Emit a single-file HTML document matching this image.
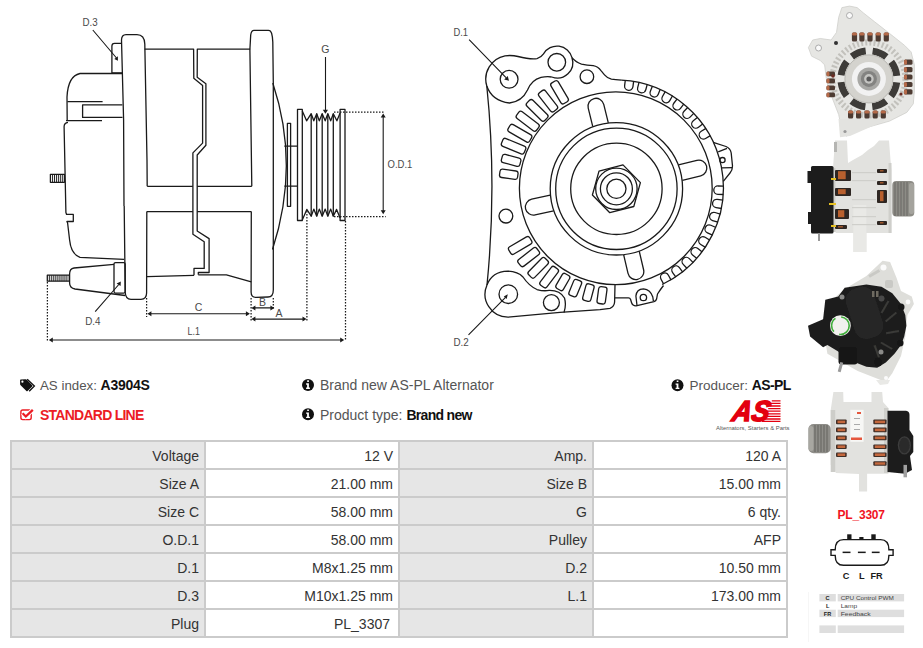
<!DOCTYPE html>
<html><head><meta charset="utf-8">
<style>
*{box-sizing:border-box;margin:0;padding:0}
html,body{width:923px;height:648px;overflow:hidden;background:#fff}
body{position:relative;font-family:"Liberation Sans",sans-serif;color:#333}
.abs{position:absolute}
.grid{position:absolute;left:10px;top:440px;width:778px;height:198px;background:#cbcbcb;padding:2px;display:grid;grid-template-columns:192px 192px 192px 192px;grid-auto-rows:26px;gap:2px}
.grid div{background:#fff;text-align:right;font-size:14px;line-height:28px;padding-right:5px;white-space:nowrap;color:#333}
.grid div.l{background:#e6e6e6}
.t{position:absolute;white-space:nowrap;font-size:14px;line-height:16px;color:#555}
.t b{color:#111}
</style></head><body>

<svg class="abs" style="left:0;top:0" width="923" height="648" viewBox="0 0 923 648">
<g fill="none" stroke="#1a1a1a" stroke-width="1.3" stroke-linejoin="round">
<!-- rear flange -->
<path d="M124.2,206 L125.2,292 Q125.4,299.3 131,299.3 L141,299.3 Q146.5,299.3 146.6,293 L146.8,211.6"/>
<path d="M147.2,186.3 L147,160 L144.8,44 Q144.5,34.6 137,34.6 L126,34.6 Q121.6,34.6 121.5,40 L123.6,120 L124,206"/>
<!-- D.3 tab -->
<path d="M122.3,73 L111.9,73 L111.9,46 Q111.9,43.3 114.5,43.3 L122,43.3"/>
<!-- rear cover upper -->
<path d="M122.3,73.5 L80,73.5 Q68,76 67,97 L67.2,120.6"/>
<path d="M67.4,101.7 L102.6,101.7 M122.4,104.8 L82.6,104.8 L82.6,117.4 L122.5,117.4 M66,120.6 L102,120.6"/>
<!-- rear cover lower -->
<path d="M124,259.3 L80,257.4 Q71,254 69.6,240 L67.6,223 L66.9,221.5 L73.3,221.5 L73.3,214.4 L66.6,214.4 L65.9,212.6 L64.1,127 Q64,123 68,122.4"/>
<!-- stud -->
<rect x="50.4" y="174.3" width="14" height="8"/>
<!-- stator upper -->
<path d="M144.6,49.1 L193.6,49.1 L193.8,78.3 L202.6,85.5 L202.6,143.1 L192.9,152.9 L192.9,234.3 L204.2,241.8 L204.2,268.4 L194,268.4 L194,275.3"/>
<path d="M250.2,49.1 L197.3,49.1 L197.2,77.2 L205.9,83.7 L205.9,145.3 L197.2,155 L197.2,231 L209.1,238.6 L209.1,272.5 L198.3,272.5 L198.3,274.8"/>
<path d="M147.2,186.3 L192.9,186.3 M197.2,186.3 L251.8,186.3 M146.8,211.6 L192.9,211.6 M197.2,211.6 L251.3,211.6"/>
<path d="M147,276.6 L194,275.3 M198.3,274.8 L226.4,274.9 L251.3,281.8"/>
<!-- front flange -->
<path d="M251.8,186.3 L249.9,49.5 L250.7,35 Q251.3,30.3 254,30.3 L268.5,30.3 Q270.6,30.3 271.6,33.2 Q272.6,36.5 272.8,42 L273.3,84 L273.3,290 Q273.3,297 268,297 L256,297.3 Q251.1,297.5 251.1,292 L251.3,211.6"/>
<!-- dome -->
<path d="M272.8,83 Q300,165 272.5,249.5"/>
<!-- washer + shaft -->
<rect x="287.4" y="123.3" width="3.2" height="83"/>
<path d="M284.3,146.1 L297.5,146.1 M284.3,186.1 L297.5,186.1"/>
<!-- pulley -->
<rect x="297.5" y="109.4" width="4.8" height="111.1"/>
<rect x="340.1" y="109.4" width="4.9" height="111.1"/>
<path d="M302.3,111.1 L306.6,120.8 L311.2,113.7 L313.8,120.8 L316.7,113.7 L319.3,120.8 L322.2,113.7 L325.2,120.8 L327.8,113.7 L330.7,120.8 L333.3,113.7 L336.9,120.8 L340.1,113"/>
<path d="M302.3,220 L306.8,209.4 L311.2,216.2 L313.8,209.1 L316.7,216.2 L319.3,209.1 L322.2,216.2 L325.2,209.1 L327.8,216.2 L330.7,209.1 L333.3,216.2 L336.6,209.4 L340.1,218"/>
<path d="M311.2,113.7 V216.2 M316.7,113.7 V216.2 M322.2,113.7 V216.2 M327.8,113.7 V216.2 M333.3,113.7 V216.2"/>
<!-- D.4 terminal -->
<path d="M114,264.4 L74,268 Q69.6,268.5 69.6,274 L69.6,283 Q69.6,288 75,289 L125,295.5"/>
<rect x="114" y="262.6" width="11.2" height="30.5" rx="1.5"/>
<rect x="47.3" y="275.2" width="22" height="6"/>
</g>
<!-- hatching -->
<g stroke="#1a1a1a" stroke-width="0.95">
<path d="M52.55,174.3V182.3M54.50,174.3V182.3M56.45,174.3V182.3M58.40,174.3V182.3M60.35,174.3V182.3M62.30,174.3V182.3"/>
<path d="M49.35,275.2V281.2M51.30,275.2V281.2M53.25,275.2V281.2M55.20,275.2V281.2M57.15,275.2V281.2M59.10,275.2V281.2M61.05,275.2V281.2M63.00,275.2V281.2M64.95,275.2V281.2M66.90,275.2V281.2"/>
</g>
<!-- dotted dimension lines -->
<g stroke="#1a1a1a" stroke-width="1.25" stroke-dasharray="1.5,1.5" fill="none">
<path d="M47.4,282 V341 M146.6,298 V317 M251.1,298 V321 M273.3,298 V310 M306.9,211 V321 M345.5,221 V341 M334,112.2 H384 M334,216.6 H385.7"/>
</g>
<!-- arrows -->
<g stroke="#1a1a1a" stroke-width="1.1" fill="none">
<path d="M150,313.8 H247 M254,307.9 H271.5 M254,319.1 H304 M51,340 H342 M383.2,117 V211 M325.5,57 V110 M92.8,30 L116.5,58 M95.2,311.7 L118.8,284.5 M469.1,39.7 L506,77.6 M468.5,334.8 L505.5,297.3"/>
</g>
<g fill="#1a1a1a">
<path d="M147.4,313.8 l4,-2.5 v5z M249.9,313.8 l-4,-2.5 v5z"/>
<path d="M251.4,307.9 l4,-2.5 v5z M274.4,307.9 l-4,-2.5 v5z"/>
<path d="M251.4,319.1 l4,-2.5 v5z M306.5,319.1 l-4,-2.5 v5z"/>
<path d="M48.8,340 l4,-2.5 v5z M344.2,340 l-4,-2.5 v5z"/>
<path d="M383.2,113.6 l-2.5,4 h5z M383.2,214.2 l-2.5,-4 h5z"/>
<path d="M325.4,113.7 l-2.6,-4 h5.2z"/>
<path d="M114.3,58.9 L117.9,56.3 L117.9,60.8z"/>
<path d="M116.6,283.5 L120.8,281.5 L120.6,286z"/>
<path d="M509,80.8 L504.2,79.4 L507.7,75.9z"/>
<path d="M507.8,294.3 L503.8,296.5 L506.6,298.9z"/>
</g>
<!-- labels -->
<g font-family="Liberation Sans, sans-serif" font-size="10.5" fill="#4a4a4a">
<text x="82.4" y="25.6" textLength="15.2" lengthAdjust="spacingAndGlyphs">D.3</text>
<text x="85.2" y="324.6" textLength="15.3" lengthAdjust="spacingAndGlyphs">D.4</text>
<text x="321.3" y="53.3">G</text>
<text x="387.6" y="167.9" textLength="24.8" lengthAdjust="spacingAndGlyphs">O.D.1</text>
<text x="194.8" y="311">C</text>
<text x="259" y="306">B</text>
<text x="275.6" y="317.3">A</text>
<text x="187.5" y="335.3" textLength="12.4" lengthAdjust="spacingAndGlyphs">L.1</text>
<text x="453.4" y="36" textLength="14.6" lengthAdjust="spacingAndGlyphs">D.1</text>
<text x="453.4" y="346.1" textLength="15.3" lengthAdjust="spacingAndGlyphs">D.2</text>
</g>

<g fill="none" stroke="#1a1a1a" stroke-width="1.3" stroke-linejoin="round">
<circle cx="616.4" cy="188.8" r="9.6"/>
<circle cx="616.4" cy="188.8" r="16.0"/>
<circle cx="616.4" cy="188.8" r="20.7"/>
<circle cx="616.4" cy="188.8" r="45.7"/>
<circle cx="616.4" cy="188.8" r="60.7"/>
<circle cx="616.4" cy="188.8" r="66.2"/>
<circle cx="615.8" cy="188.3" r="96.4"/>
<polygon points="640.4,182.6 633.8,206.5 609.8,212.7 592.4,195.0 599.0,171.1 623.0,164.9"/>
<path transform="rotate(-14.1 616.4 188.8)" d="M682.4,180.8 L701.4,180.8 A8,8 0 0 1 701.4,196.8 L682.4,196.8"/>
<path transform="rotate(76.8 616.4 188.8)" d="M682.4,180.8 L701.4,180.8 A8,8 0 0 1 701.4,196.8 L682.4,196.8"/>
<path transform="rotate(167.6 616.4 188.8)" d="M682.4,180.8 L701.4,180.8 A8,8 0 0 1 701.4,196.8 L682.4,196.8"/>
<path transform="rotate(-103.9 616.4 188.8)" d="M682.4,180.8 L701.4,180.8 A8,8 0 0 1 701.4,196.8 L682.4,196.8"/>
<rect transform="rotate(-172.3 616.4 188.8)" x="715.9" y="184.6" width="18.2" height="8.4" rx="2.4"/>
<rect transform="rotate(-164.9 616.4 188.8)" x="715.9" y="184.6" width="19.1" height="8.4" rx="2.4"/>
<rect transform="rotate(-157.5 616.4 188.8)" x="715.4" y="184.6" width="24.6" height="8.4" rx="2.4"/>
<rect transform="rotate(-150.1 616.4 188.8)" x="715.4" y="184.6" width="24.8" height="8.4" rx="2.4"/>
<rect transform="rotate(-142.7 616.4 188.8)" x="715.4" y="184.6" width="25.0" height="8.4" rx="2.4"/>
<rect transform="rotate(-135.3 616.4 188.8)" x="715.4" y="184.6" width="25.0" height="8.4" rx="2.4"/>
<rect transform="rotate(-127.9 616.4 188.8)" x="715.9" y="184.6" width="23.5" height="8.4" rx="2.4"/>
<rect transform="rotate(-120.5 616.4 188.8)" x="716.4" y="184.6" width="24.0" height="8.4" rx="2.4"/>
<rect transform="rotate(149.5 616.4 188.8)" x="715.9" y="184.6" width="24.3" height="8.4" rx="2.4"/>
<rect transform="rotate(142.1 616.4 188.8)" x="715.9" y="184.6" width="23.4" height="8.4" rx="2.4"/>
<rect transform="rotate(134.7 616.4 188.8)" x="715.9" y="184.6" width="23.3" height="8.4" rx="2.4"/>
<rect transform="rotate(127.3 616.4 188.8)" x="715.9" y="184.6" width="23.0" height="8.4" rx="2.4"/>
<rect transform="rotate(119.9 616.4 188.8)" x="715.4" y="184.6" width="17.0" height="8.4" rx="2.4"/>
<rect transform="rotate(112.5 616.4 188.8)" x="715.4" y="184.6" width="17.0" height="8.4" rx="2.4"/>
<rect transform="rotate(105.1 616.4 188.8)" x="715.4" y="184.6" width="17.0" height="8.4" rx="2.4"/>
<rect transform="rotate(97.7 616.4 188.8)" x="715.4" y="184.6" width="17.0" height="8.4" rx="2.4"/>
<path transform="rotate(-82.7 615.8 187.5)" d="M723.6,183.3 L718.0,183.3 A4.15,4.15 0 0 0 718.0,191.7 L723.6,191.7"/>
<path transform="rotate(-75.3 615.8 187.5)" d="M723.6,183.3 L718.0,183.3 A4.15,4.15 0 0 0 718.0,191.7 L723.6,191.7"/>
<path transform="rotate(-67.9 615.8 187.5)" d="M723.6,183.3 L718.0,183.3 A4.15,4.15 0 0 0 718.0,191.7 L723.6,191.7"/>
<path transform="rotate(-60.5 615.8 187.5)" d="M723.6,183.3 L718.0,183.3 A4.15,4.15 0 0 0 718.0,191.7 L723.6,191.7"/>
<path transform="rotate(-53.1 615.8 187.5)" d="M723.6,183.3 L718.0,183.3 A4.15,4.15 0 0 0 718.0,191.7 L723.6,191.7"/>
<path transform="rotate(-45.8 615.8 187.5)" d="M723.6,183.3 L718.0,183.3 A4.15,4.15 0 0 0 718.0,191.7 L723.6,191.7"/>
<path transform="rotate(-38.4 615.8 187.5)" d="M723.6,183.3 L718.0,183.3 A4.15,4.15 0 0 0 718.0,191.7 L723.6,191.7"/>
<path transform="rotate(-31.0 615.8 187.5)" d="M723.6,183.3 L718.0,183.3 A4.15,4.15 0 0 0 718.0,191.7 L723.6,191.7"/>
<path transform="rotate(1.5 615.8 187.5)" d="M723.6,183.3 L718.0,183.3 A4.15,4.15 0 0 0 718.0,191.7 L723.6,191.7"/>
<path transform="rotate(9.0 615.8 187.5)" d="M723.6,183.3 L718.0,183.3 A4.15,4.15 0 0 0 718.0,191.7 L723.6,191.7"/>
<path transform="rotate(16.5 615.8 187.5)" d="M723.6,183.3 L718.0,183.3 A4.15,4.15 0 0 0 718.0,191.7 L723.6,191.7"/>
<path transform="rotate(24.0 615.8 187.5)" d="M723.6,183.3 L718.0,183.3 A4.15,4.15 0 0 0 718.0,191.7 L723.6,191.7"/>
<path transform="rotate(31.5 615.8 187.5)" d="M723.6,183.3 L718.0,183.3 A4.15,4.15 0 0 0 718.0,191.7 L723.6,191.7"/>
<path transform="rotate(39.0 615.8 187.5)" d="M723.6,183.3 L718.0,183.3 A4.15,4.15 0 0 0 718.0,191.7 L723.6,191.7"/>
<path transform="rotate(46.4 615.8 187.5)" d="M723.6,183.3 L718.0,183.3 A4.15,4.15 0 0 0 718.0,191.7 L723.6,191.7"/>
<path transform="rotate(53.9 615.8 187.5)" d="M723.6,183.3 L718.0,183.3 A4.15,4.15 0 0 0 718.0,191.7 L723.6,191.7"/>
<path transform="rotate(61.4 615.8 187.5)" d="M723.6,183.3 L718.0,183.3 A4.15,4.15 0 0 0 718.0,191.7 L723.6,191.7"/>
<path d="M621.4,80.1 A107.5,107.5 0 0 1 662.1,284.5"/>
<path d="M713.2,142.4 L726,146.5 Q730.5,148.5 731.2,153 L732.5,166 Q732.5,170 730,173 L723.3,181.3"/>
<path d="M718.2,151.8 L727,148.4 M721.6,167.8 L732.4,167.6"/>
<circle cx="722.5" cy="160.1" r="2.6"/>
<path d="M486.8,86 A23.8,23.8 0 0 1 505,55.8 Q512,55 518,56.5 Q530,59.5 537,58.6 Q541,57.6 543.5,53.9 A15.5,15.5 0 0 1 572,57.7 Q576,62.5 581.5,64.1 Q587,65.5 593.2,65.6 Q598,66.5 601,70.6 L604.5,74.8 Q607.5,78.3 611.4,79.1 Q615,79.7 621.5,80.1"/>
<path d="M486.8,86 Q492,101 509.5,103 Q522,101.5 527.5,90 Q531.5,80 541,77.4 Q547,76.2 551.7,77"/>
<path d="M572,57.7 A15.5,15.5 0 0 1 551.7,77"/>
<path d="M486.8,86 Q497,185 487,285"/>
<path d="M487,285 A23,23 0 0 0 507.9,317.2 L560,312.4 L600,309.6 L610,308.3 Q614.3,306.8 614.6,302 L615,285"/>
<path d="M487,285 Q492,271.5 507.9,271.1 Q518,271.5 523,277 Q529,286 537,289.5 Q544,291.5 549,290.3 Q560,290 564.5,298 Q566.5,305 564,312.6"/>
<path d="M663.5,285.5 Q660,290 657.5,294 L656.6,299 Q656,301 654,301.6 L636,305.8 Q632.5,305.8 631.5,302.5 L630.6,299.5 Q630,297.8 628.5,297.8 L615,297.8"/>
<path d="M637,305.5 L635.9,296 Q636.5,289 643.5,288.8 Q650.5,289.5 652.8,297 L653.4,301.2"/>
<circle cx="643.4" cy="297.5" r="3.2"/>
<circle cx="509.1" cy="79.3" r="8.9"/>
<circle cx="556.8" cy="62.3" r="8.8"/>
<circle cx="586.9" cy="76.7" r="6.8"/>
<circle cx="505.9" cy="216.1" r="6.9"/>
<circle cx="508.3" cy="294.2" r="9.3"/>
<circle cx="551.4" cy="302.6" r="8.0"/>
</g>
</svg>
<!-- icons -->
<svg class="abs" style="left:0;top:0" width="923" height="648" viewBox="0 0 923 648">
<!-- tags icon -->
<path d="M20.8,379.4 L25.6,379.3 Q26.3,379.3 26.8,379.8 L32.2,385.2 Q32.8,385.8 32.2,386.4 L27.6,391 Q27,391.6 26.4,391 L20.6,385.2 Q20.1,384.7 20.1,384 L20.1,380.1 Q20.1,379.4 20.8,379.4Z" fill="#111"/>
<circle cx="22.4" cy="381.7" r="1.1" fill="#fff"/>
<path d="M27.2,379.2 L34.4,386 L29.2,391.2" fill="none" stroke="#111" stroke-width="1.3"/>
<!-- check square -->
<rect x="20.9" y="410" width="10.3" height="9.6" rx="1.8" fill="none" stroke="#ec1c24" stroke-width="1.4"/>
<path d="M22.6,413.3 L25.8,416.5 L32.8,409.8" fill="none" stroke="#fff" stroke-width="4.2"/>
<path d="M22.6,413.3 L25.8,416.5 L32.8,409.8" fill="none" stroke="#ec1c24" stroke-width="2.3"/>
<!-- info circles -->
<g>
<circle cx="308" cy="385.1" r="6" fill="#111"/>
<circle cx="308" cy="414.2" r="6" fill="#111"/>
<circle cx="677.5" cy="385.2" r="6" fill="#111"/>
</g>
<g fill="#fff">
<path d="M307.2,380.3h1.7v1.7h-1.7z M306.1,383.3h2.8v4.3h1v1.3h-3.8v-1.3h1v-2.9h-1z"/>
<path d="M307.2,409.4h1.7v1.7h-1.7z M306.1,412.4h2.8v4.3h1v1.3h-3.8v-1.3h1v-2.9h-1z"/>
<path d="M676.7,380.4h1.7v1.7h-1.7z M675.6,383.4h2.8v4.3h1v1.3h-3.8v-1.3h1v-2.9h-1z"/>
</g>
<!-- AS logo -->
<g fill="#e3000f">
<text x="732" y="421.4" font-family="Liberation Sans, sans-serif" font-size="29" font-weight="bold" font-style="italic" stroke="#e3000f" stroke-width="1.6" textLength="37" lengthAdjust="spacingAndGlyphs" transform="skewX(-12) translate(88.5,0)">AS</text>
</g>
<g stroke="#e3000f" stroke-width="1.3">
<path d="M771.8,400.8H780.5M770.6,403.4H780.5M769.4,406H780.5M768.2,408.6H780.5M767,411.2H780.5M765.8,413.8H780.5M764.6,416.4H780.5M763.3,419H780.5M762,421.4H780.5"/>
</g>
<text x="716" y="429.8" font-family="Liberation Sans, sans-serif" font-size="6" fill="#555" textLength="73.5" lengthAdjust="spacingAndGlyphs">Alternators, Starters &amp; Parts</text>
</svg>

<!-- plug section -->
<div class="abs" style="left:837.5px;top:508px;font-size:12px;font-weight:bold;color:#f0141e;letter-spacing:-0.2px;line-height:14px">PL_3307</div>
<svg class="abs" style="left:0;top:0" width="923" height="648" viewBox="0 0 923 648">
<g fill="none" stroke="#1a1a1a" stroke-width="1.4">
<path d="M843.5,539.6 H880.6 Q888.9,539.6 888.9,549.8 H893.1 V555.4 H888.9 Q888.9,565.3 880.6,565.3 H843.5 Q835.2,565.3 835.2,555.4 H831 V549.8 H835.2 Q835.2,539.6 843.5,539.6 Z"/>
</g>
<g fill="#1a1a1a">
<rect x="847.2" y="534.3" width="4.3" height="5.3"/>
<rect x="859.3" y="537" width="4.2" height="2.7"/>
<rect x="871.3" y="534.3" width="4.4" height="5.3"/>
<rect x="842.6" y="551.6" width="7.9" height="1.5"/>
<rect x="857.9" y="551.6" width="7.8" height="1.5"/>
<rect x="871.8" y="551.6" width="7.8" height="1.5"/>
</g>
<g font-family="Liberation Sans, sans-serif" font-weight="bold" font-size="9.2" fill="#1a1a1a">
<text x="842.8" y="578.8">C</text>
<text x="859" y="578.8">L</text>
<text x="870.4" y="578.8">FR</text>
</g>
<!-- legend -->
<rect x="808" y="592" width="1" height="50" fill="#f6f6f6"/>
<g fill="#dedede">
<rect x="819.4" y="594" width="16.4" height="7.4"/>
<rect x="837.7" y="594" width="66.4" height="7.4"/>
<rect x="819.4" y="609.7" width="16.4" height="7.4"/>
<rect x="837.7" y="609.7" width="66.4" height="7.4"/>
<rect x="819.4" y="625.4" width="16.4" height="7.6"/>
<rect x="837.7" y="625.4" width="66.4" height="7.6"/>
</g>
<g font-family="Liberation Sans, sans-serif" font-size="5.6" fill="#444">
<text x="827.6" y="600" font-weight="bold" text-anchor="middle" fill="#222">C</text>
<text x="827.6" y="607.7" font-weight="bold" text-anchor="middle" fill="#222">L</text>
<text x="827.6" y="615.6" font-weight="bold" text-anchor="middle" fill="#222">FR</text>
<text x="840.7" y="600" textLength="53" lengthAdjust="spacingAndGlyphs">CPU Control PWM</text>
<text x="840.7" y="607.7" textLength="16.5" lengthAdjust="spacingAndGlyphs">Lamp</text>
<text x="840.7" y="615.6" textLength="30" lengthAdjust="spacingAndGlyphs">Feedback</text>
</g>
</svg>
<svg class="abs" style="left:0;top:0" width="923" height="648" viewBox="0 0 923 648">
<defs><filter id="bl" x="-5%" y="-5%" width="110%" height="110%"><feGaussianBlur stdDeviation="0.6"/></filter></defs>
<g filter="url(#bl)">
<!-- photo 1 -->
<polygon fill="#e6e6e3" stroke="#cfcfcb" stroke-width="0.8" points="841.9,7.6 849.5,6.1 857.1,7.6 863.5,13 874.4,21.6 893.8,36.8 904.6,45.4 911.1,51.9 914.4,64.9 914.4,90.8 913.3,103.8 906.8,112.4 889.5,121.1 859.2,129.7 846.2,136.2 841.9,129.7 838.7,114.6 831.1,95.1 826.8,82.2 824.6,64.9 820.3,60.5 811.6,56.2 808.4,47.6 812.7,40 820.3,38.5 831.1,40 836.5,32.4 838.7,17.3"/>
<circle cx="849.5" cy="15.5" r="3" fill="#fafafa" stroke="#999" stroke-width="0.8"/>
<circle cx="818.5" cy="48" r="3" fill="#fafafa" stroke="#999" stroke-width="0.8"/>
<circle cx="846" cy="130" r="1.8" fill="#aaa"/>
<circle cx="868.9" cy="78.9" r="36.5" fill="none" stroke="#c2c1bc" stroke-width="6" stroke-dasharray="2 2.2"/>
<g fill="#4d3a33"><rect x="851.9" y="32.5" width="5.2" height="9" rx="1.5"/><rect x="859.3" y="32.5" width="5.2" height="9" rx="1.5"/><rect x="867.4" y="32.5" width="5.2" height="9" rx="1.5"/><rect x="875.6" y="32.5" width="5.2" height="9" rx="1.5"/><rect x="883.7" y="32.5" width="5.2" height="9" rx="1.5"/><rect x="904" y="59.6" width="8.5" height="5.2" rx="1.5"/><rect x="904" y="67" width="8.5" height="5.2" rx="1.5"/><rect x="904" y="74.4" width="8.5" height="5.2" rx="1.5"/><rect x="904" y="81.9" width="8.5" height="5.2" rx="1.5"/><rect x="904" y="89.3" width="8.5" height="5.2" rx="1.5"/><rect x="848" y="110.5" width="5.2" height="8" rx="1.5"/><rect x="856" y="110.5" width="5.2" height="8" rx="1.5"/><rect x="864.4" y="110.5" width="5.2" height="8" rx="1.5"/><rect x="872.6" y="110.5" width="5.2" height="8" rx="1.5"/><rect x="880.7" y="110.5" width="5.2" height="8" rx="1.5"/><rect x="826.5" y="71.5" width="8.5" height="4.8" rx="1.5"/><rect x="826.5" y="78.5" width="8.5" height="4.8" rx="1.5"/><rect x="826.5" y="85.5" width="8.5" height="4.8" rx="1.5"/><rect x="826.5" y="92.5" width="8.5" height="4.8" rx="1.5"/></g>
<g fill="#b56a4a"><rect x="851.9" y="32.5" width="5.2" height="3" rx="1.5"/><rect x="859.3" y="32.5" width="5.2" height="3" rx="1.5"/><rect x="867.4" y="32.5" width="5.2" height="3" rx="1.5"/><rect x="875.6" y="32.5" width="5.2" height="3" rx="1.5"/><rect x="883.7" y="32.5" width="5.2" height="3" rx="1.5"/><rect x="904" y="59.6" width="3" height="5.2" rx="1.5"/><rect x="904" y="67" width="3" height="5.2" rx="1.5"/><rect x="904" y="74.4" width="3" height="5.2" rx="1.5"/><rect x="904" y="81.9" width="3" height="5.2" rx="1.5"/><rect x="904" y="89.3" width="3" height="5.2" rx="1.5"/><rect x="848" y="110.5" width="5.2" height="3" rx="1.5"/><rect x="856" y="110.5" width="5.2" height="3" rx="1.5"/><rect x="864.4" y="110.5" width="5.2" height="3" rx="1.5"/><rect x="872.6" y="110.5" width="5.2" height="3" rx="1.5"/><rect x="880.7" y="110.5" width="5.2" height="3" rx="1.5"/><rect x="826.5" y="71.5" width="3" height="4.8" rx="1.5"/><rect x="826.5" y="78.5" width="3" height="4.8" rx="1.5"/><rect x="826.5" y="85.5" width="3" height="4.8" rx="1.5"/><rect x="826.5" y="92.5" width="3" height="4.8" rx="1.5"/></g>
<circle cx="868.9" cy="78.9" r="28" fill="none" stroke="#3d3a37" stroke-width="7" stroke-dasharray="15 7" stroke-dashoffset="-3.5"/>
<circle cx="868.9" cy="78.9" r="24" fill="#d4d3ce" stroke="#b9b8b3" stroke-width="1"/>
<circle cx="868.9" cy="78.9" r="17" fill="#f2f2f2"/>
<circle cx="868.9" cy="78.9" r="11.5" fill="#a8a8a5"/>
<circle cx="868.9" cy="78.9" r="8" fill="#838381"/>
<circle cx="868.9" cy="78.9" r="4.8" fill="#c5c5c2"/>
<circle cx="868.9" cy="78.9" r="2.5" fill="#5a5a5a"/>
<circle cx="836" cy="43" r="2" fill="#333"/>
<circle cx="901" cy="94" r="1.6" fill="#6b2a20"/>
<circle cx="833" cy="76" r="1.8" fill="#6b2a20"/>

<!-- photo 2 -->
<polygon fill="#e2e2df" points="835,140.5 847,140.5 848,163 853,160 862,155 868,150 874,146 879,140.5 889,140.5 890.5,160 891.5,170 891.5,233 866.4,233 866.4,252 853.4,252 853.4,233 836,233 833,229 833,168"/><rect x="853.4" y="205" width="13" height="47" fill="#e9e9e6"/><rect x="832.5" y="168" width="3" height="64" fill="#cdcdc9"/><rect x="888.5" y="163" width="3" height="70" fill="#cfcfcb"/><rect x="834" y="142" width="3" height="10" fill="#b5b5b2"/>
<polygon fill="#e3e3e0" points="838.5,119 884,119 884,121 850,136 840,137.3"/><circle cx="845" cy="131.5" r="1.6" fill="#999"/>
<rect x="811" y="166" width="22.5" height="67.5" rx="1.5" fill="#1c1c1c"/>
<rect x="807.5" y="171" width="4" height="12" fill="#1c1c1c"/>
<rect x="808" y="212" width="4" height="12" fill="#1c1c1c"/>
<rect x="818" y="233" width="2" height="8" fill="#999"/>
<g fill="#cfcfcb"><rect x="852" y="172" width="24" height="1.2"/><rect x="852" y="180" width="24" height="1.2"/><rect x="852" y="199" width="24" height="1.2"/><rect x="852" y="207" width="24" height="1.2"/><rect x="852" y="216" width="24" height="1.2"/><rect x="852" y="224" width="24" height="1.2"/></g><g fill="#2f2521"><rect x="835" y="170" width="16" height="11" rx="1"/><rect x="835" y="188" width="16" height="8" rx="1"/><rect x="835" y="209" width="14" height="10" rx="1"/><rect x="835" y="225" width="12" height="4" rx="1"/><rect x="877" y="169" width="10" height="4" rx="1"/><rect x="877" y="181" width="10" height="4" rx="1"/><rect x="877" y="190" width="10" height="13" rx="1"/><rect x="877" y="221" width="10" height="4" rx="1"/></g><g fill="#b9602f"><rect x="838" y="171.2" width="7.7" height="8.0"/><rect x="838" y="189.2" width="7.7" height="5.0"/><rect x="838" y="210.2" width="6.3" height="7.0"/><rect x="838" y="226.2" width="4.9" height="1.2"/><rect x="880" y="170.2" width="3.5" height="1.2"/><rect x="880" y="182.2" width="3.5" height="1.2"/><rect x="880" y="191.2" width="3.5" height="10.0"/><rect x="880" y="222.2" width="3.5" height="1.2"/></g><g fill="#e6c020"><rect x="831" y="178" width="5" height="2"/><rect x="829" y="203" width="7" height="2"/><rect x="831" y="225" width="5" height="2"/></g>
<rect x="892.3" y="181" width="22" height="35.5" rx="4" fill="#8d8c86"/>
<g stroke="#6f6e69" stroke-width="1.2"><path d="M895,182V216M898,182V216M901,182V216M904,182V216M907,182V216"/></g>
<rect x="909" y="183" width="5" height="31" rx="2" fill="#a4a39d"/>

<!-- photo 3 -->
<polygon fill="#dededa" points="882.6,260.8 890.1,261.9 896.6,278.1 901,291.1 911.8,296.5 913.9,304.1 907.4,314.9 905.3,336.5 901,356 892.3,373.2 885.8,381.9 857.7,371.1 827.4,353.8 825.3,340.8 829.6,301.9 844.7,288.9 866.4,276"/>
<circle cx="883.5" cy="267.5" r="3" fill="#fbfbfb"/>
<circle cx="908" cy="302" r="2.4" fill="#fbfbfb"/>
<circle cx="886" cy="378" r="2" fill="#fbfbfb"/>
<g fill="#c9c9c5"><rect x="868" y="272" width="12" height="3" transform="rotate(-30 874 273)"/><rect x="885" y="280" width="8" height="8" rx="2"/></g>
<polygon fill="#1e1e1e" points="844.7,287.8 866.4,284.6 881.5,286.8 892.3,293.2 901,304 905.3,314.9 906.4,325.7 904.2,336.5 901,345.1 894.5,353.8 885.8,362.4 877.2,367.8 866.4,366.8 855.5,362.4 846.9,358.1 838.2,351.6 827.4,345.1 823.1,347.3 810.1,336.5 808,325.7 823.1,319.2 825.3,299.7 838.2,296.5"/>
<g fill="#3a3a38"><rect x="884" y="300" width="2" height="14" transform="rotate(30 885 307)"/><rect x="890" y="310" width="2" height="14" transform="rotate(50 891 317)"/><rect x="892" y="326" width="2" height="13" transform="rotate(80 893 332)"/><rect x="886" y="340" width="2" height="13" transform="rotate(120 887 346)"/><rect x="876" y="346" width="2" height="13" transform="rotate(160 877 352)"/></g>
<rect x="850" y="287" width="29" height="52" rx="12" transform="rotate(-18 864 313)" fill="#282828"/>
<rect x="838.5" y="347" width="19" height="17.5" rx="3" fill="#191919"/>
<circle cx="901" cy="307" r="3.5" fill="#191919"/>
<circle cx="900" cy="343" r="3.5" fill="#191919"/>
<circle cx="878" cy="362" r="4.5" fill="#191919"/>
<circle cx="840.4" cy="325.7" r="10.4" fill="#f1f1ee"/>
<circle cx="840.4" cy="325.7" r="8.8" fill="none" stroke="#3fae3a" stroke-width="1.6" stroke-dasharray="15 6"/>
<circle cx="842" cy="297" r="2.5" fill="#8a8a88"/>
<circle cx="881" cy="352" r="2.5" fill="#8a8a88"/>
<circle cx="881.5" cy="298.5" r="3" fill="#4a4a48"/>
<rect x="839" y="362" width="3" height="10" fill="#9a9a9a" transform="rotate(15 840 367)"/>
<g fill="#6e6a60"><rect x="872" y="291" width="2.5" height="6"/><rect x="876" y="291" width="2.5" height="6"/></g>

<!-- photo 4 -->
<polygon fill="#e9e9e6" points="876,380 890,380 888,384 880,385"/>
<polygon fill="#e2e2df" points="833.4,392 843.2,392 843.5,402 871.5,402 871.5,392 882.2,392 883,402 888.4,408 888.4,473.7 867.1,473.7 867.1,491.5 859,491.5 859,474 836,473 830.7,465 830.7,410"/>
<rect x="830.7" y="410" width="4.5" height="62" fill="#cdcdc9"/><rect x="884" y="408" width="4.4" height="65" fill="#cfcfcb"/>
<rect x="850.3" y="409.8" width="13.3" height="32" fill="#f7f7f5"/>
<rect x="851" y="437.5" width="11" height="2.5" fill="#e5573c"/>
<rect x="857" y="412" width="4" height="2" fill="#e5573c"/>
<g fill="#aaa"><rect x="854" y="418" width="6" height="1"/><rect x="854" y="424" width="6" height="1"/><rect x="854" y="429" width="6" height="1"/></g>
<g fill="#3f2e27"><rect x="836" y="419.6" width="10.7" height="4.6" rx="1"/><rect x="836" y="427.6" width="10.7" height="4.6" rx="1"/><rect x="836" y="435.6" width="10.7" height="4.6" rx="1"/><rect x="836" y="444.4" width="10.7" height="4.6" rx="1"/><rect x="836" y="452.4" width="10.7" height="4.6" rx="1"/><rect x="873.3" y="419.6" width="13.3" height="4.6" rx="1"/><rect x="873.3" y="427.6" width="13.3" height="4.6" rx="1"/><rect x="873.3" y="435.6" width="13.3" height="4.6" rx="1"/><rect x="873.3" y="444.4" width="13.3" height="4.6" rx="1"/><rect x="873.3" y="452.4" width="13.3" height="4.6" rx="1"/><rect x="873.3" y="461.3" width="13.3" height="4.4" rx="1"/></g>
<g fill="#c4683e"><rect x="837.5" y="420.6" width="7.699999999999999" height="2.5999999999999996"/><rect x="837.5" y="428.6" width="7.699999999999999" height="2.5999999999999996"/><rect x="837.5" y="436.6" width="7.699999999999999" height="2.5999999999999996"/><rect x="837.5" y="445.4" width="7.699999999999999" height="2.5999999999999996"/><rect x="837.5" y="453.4" width="7.699999999999999" height="2.5999999999999996"/><rect x="874.8" y="420.6" width="10.3" height="2.5999999999999996"/><rect x="874.8" y="428.6" width="10.3" height="2.5999999999999996"/><rect x="874.8" y="436.6" width="10.3" height="2.5999999999999996"/><rect x="874.8" y="445.4" width="10.3" height="2.5999999999999996"/><rect x="874.8" y="453.4" width="10.3" height="2.5999999999999996"/><rect x="874.8" y="462.3" width="10.3" height="2.4000000000000004"/></g>
<rect x="808.5" y="424" width="22.2" height="29.3" rx="5" fill="#8e8d88"/>
<g stroke="#6c6b66" stroke-width="1.2"><path d="M815,425V452M818,425V452M821,425V452M824,425V452M827,425V452"/></g>
<rect x="808.5" y="426" width="5" height="25" rx="2.5" fill="#a8a7a1"/>
<path d="M887.5,410.7 L906,410.7 Q909.5,411 909.5,415 L909.5,430 L913.3,436 L913.3,452 L910,456 L912,470 L905,473.7 L887.5,472Z" fill="#1f1f1f"/>
<ellipse cx="904.4" cy="445.3" rx="6" ry="8.5" fill="#2c2c2c" stroke="#3c3c3c" stroke-width="1.2"/>
<rect x="903.5" y="464.9" width="3.5" height="12.4" fill="#a0a0a0"/>
</g>
</svg>

<!-- info lines -->
<div class="t" style="left:40px;top:377px;font-size:13.3px">AS index:&nbsp;<b style="font-size:14px;letter-spacing:-0.25px">A3904S</b></div>
<div class="t" style="left:40px;top:407px;color:#ec1c24;font-weight:bold;font-size:14px;letter-spacing:-0.75px">STANDARD LINE</div>
<div class="t" style="left:320px;top:377px">Brand new AS-PL Alternator</div>
<div class="t" style="left:320px;top:407px">Product type:&nbsp;<b style="font-size:14px;letter-spacing:-0.7px">Brand new</b></div>
<div class="t" style="left:689.5px;top:377px;font-size:13.5px">Producer:&nbsp;<b style="font-size:14px;letter-spacing:-0.6px">AS-PL</b></div>

<div class="grid">
<div class="l">Voltage</div><div>12 V</div><div class="l">Amp.</div><div>120 A</div>
<div class="l">Size A</div><div>21.00 mm</div><div class="l">Size B</div><div>15.00 mm</div>
<div class="l">Size C</div><div>58.00 mm</div><div class="l">G</div><div>6 qty.</div>
<div class="l">O.D.1</div><div>58.00 mm</div><div class="l">Pulley</div><div>AFP</div>
<div class="l">D.1</div><div>M8x1.25 mm</div><div class="l">D.2</div><div>10.50 mm</div>
<div class="l">D.3</div><div>M10x1.25 mm</div><div class="l">L.1</div><div>173.00 mm</div>
<div class="l">Plug</div><div style="padding-right:8px">PL_3307</div><div class="l"></div><div></div>
</div>

</body></html>
